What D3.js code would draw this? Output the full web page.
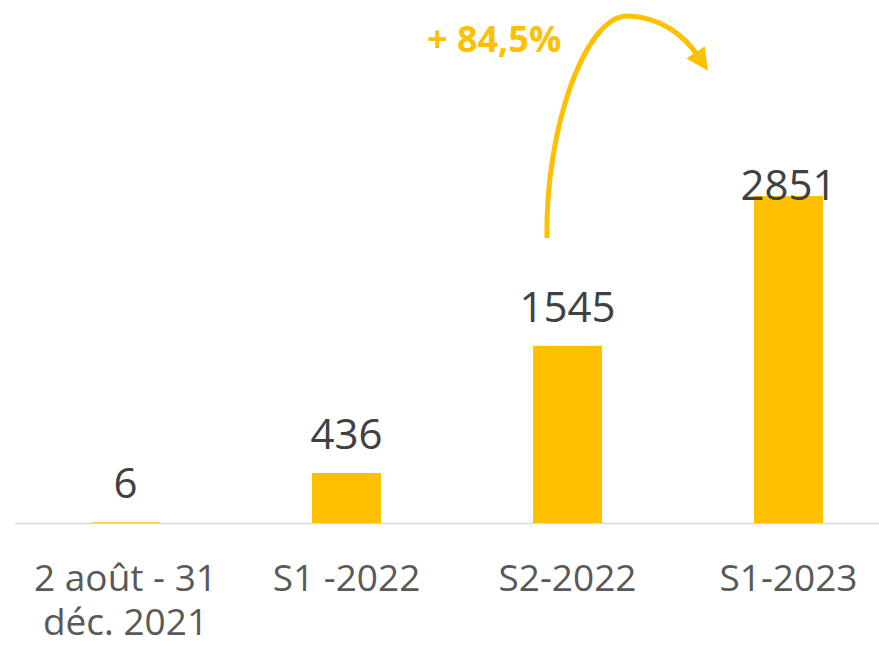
<!DOCTYPE html>
<html>
<head>
<meta charset="utf-8">
<script src="https://cdn.jsdelivr.net/npm/d3@7"></script>
<style>
  body { margin: 0; background: #fff; }
  svg { display: block; font-family: "Open Sans", sans-serif; }
</style>
</head>
<body>
<div id="chart"></div>
<script>
// chart data
var categories = [["2 août - 31", "déc. 2021"], ["S1 -2022"], ["S2-2022"], ["S1-2023"]];
var values = [6, 436, 1545, 2851];
var growthLabel = "+ 84,5%";

var width = 879, height = 646;
var yellow = "#FFC000";

var svg = d3.select("#chart")
    .append("svg")
    .attr("width", width)
    .attr("height", height);

var xScale = d3.scaleBand()
    .domain(d3.range(values.length))
    .range([15, 899])
    .paddingInner(0.688)
    .paddingOuter(0.344);

var yScale = d3.scaleLinear()
    .domain([0, 3000])
    .range([523, 179]);

// baseline
svg.append("line")
    .attr("x1", 15)
    .attr("x2", width)
    .attr("y1", yScale(0) + 0.5)
    .attr("y2", yScale(0) + 0.5)
    .attr("stroke", "#D9D9D9")
    .attr("stroke-width", 1.5);

svg.selectAll(".bar")
    .data(values)
    .enter()
    .append("rect")
    .attr("class", "bar")
    .attr("x", function(d, i) { return xScale(i); })
    .attr("y", function(d) { return yScale(d); })
    .attr("width", xScale.bandwidth())
    .attr("height", function(d) { return yScale(0) - yScale(d); })
    .attr("fill", yellow);

// value labels (excel pushes the top one inside the plot area)
svg.selectAll(".value-label")
    .data(values)
    .enter()
    .append("text")
    .attr("class", "value-label")
    .attr("x", function(d, i) { return xScale(i) + xScale.bandwidth() / 2; })
    .attr("y", function(d) { return Math.max(yScale(d) - 24, 200); })
    .attr("text-anchor", "middle")
    .attr("font-size", 42)
    .attr("fill", "#404040")
    .text(function(d) { return d; });

// category labels
var catLabel = svg.selectAll(".cat-label")
    .data(categories)
    .enter()
    .append("text")
    .attr("class", "cat-label")
    .attr("text-anchor", "middle")
    .attr("font-size", 37)
    .attr("fill", "#595959");

catLabel.selectAll("tspan")
    .data(function(d, i) { return d.map(function(t) { return { t: t, i: i }; }); })
    .enter()
    .append("tspan")
    .attr("x", function(d) { return xScale(d.i) + xScale.bandwidth() / 2; })
    .attr("y", function(d, j) { return 591 + j * 44; })
    .text(function(d) { return d.t; });

// growth arrow
svg.append("defs").append("marker")
    .attr("id", "arrowhead")
    .attr("viewBox", "0 0 10 10")
    .attr("refX", 2)
    .attr("refY", 5)
    .attr("markerWidth", 4.4)
    .attr("markerHeight", 4.4)
    .attr("markerUnits", "strokeWidth")
    .attr("orient", "auto")
    .append("path")
    .attr("d", "M0,0 L10,5 L0,10 Z")
    .attr("fill", yellow);

svg.append("path")
    .attr("d", "M547,238 C545,130 585,15 628,16 C660,17 684,35 698,56")
    .attr("fill", "none")
    .attr("stroke", yellow)
    .attr("stroke-width", 5)
    .attr("marker-end", "url(#arrowhead)");

svg.append("text")
    .attr("x", 427)
    .attr("y", 52)
    .attr("font-size", 36)
    .attr("font-weight", "bold")
    .attr("fill", yellow)
    .text(growthLabel);
</script>
</body>
</html>
